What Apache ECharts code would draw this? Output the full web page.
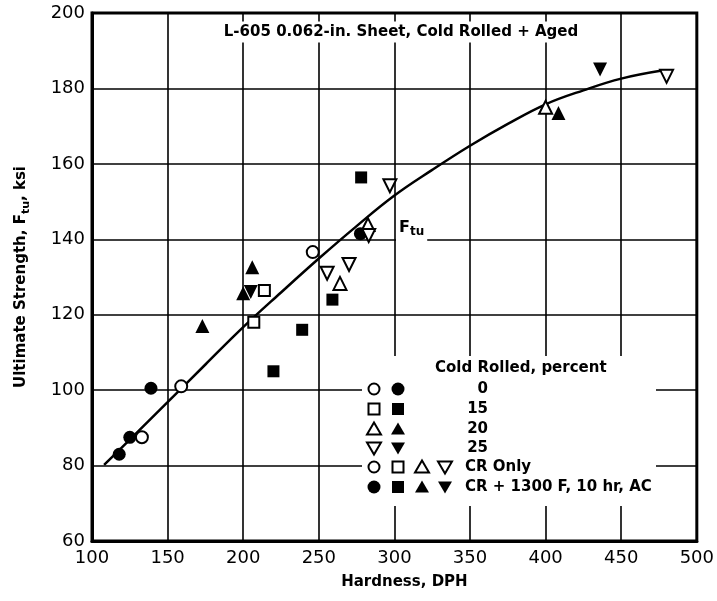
<!DOCTYPE html>
<html><head><meta charset="utf-8">
<script src="https://cdn.jsdelivr.net/npm/echarts@6/dist/echarts.min.js"></script>
<style>html,body{margin:0;padding:0;background:#fff}#c{width:717px;height:601px}</style>
</head><body><div id="c"></div>
<script>
// ---- data (hardness DPH, ultimate strength ksi) ----
const xTicks = [100, 150, 200, 250, 300, 350, 400, 450, 500];
const yTicks = [60, 80, 100, 120, 140, 160, 180, 200];
const cr0Only  = [[133, 87.5], [159, 101], [246, 136.6]];
const cr0Aged  = [[118, 83], [125, 87.5], [139, 100.5], [277.5, 141.5]];
const cr15Only = [[207, 118], [214, 126.4]];
const cr15Aged = [[220, 105], [239, 116], [259, 124], [278, 156.4]];
const cr20Only = [[264, 128.3], [282.5, 143.9], [400, 175]];
const cr20Aged = [[173, 117], [200, 125.7], [206, 132.6], [408.5, 173.5]];
const cr25Only = [[255.5, 131], [270, 133.3], [283, 141], [297, 154.2], [480, 183.2]];
const cr25Aged = [[205, 126], [436, 185]];
const ftuCurve = [[108, 80.2], [125, 86.9], [150, 96.8], [175, 106.8], [200, 116.7], [225, 125.9],
  [250, 134.9], [275, 143.5], [300, 151.6], [325, 158.4], [350, 164.8], [375, 170.6],
  [400, 175.8], [425, 179.5], [450, 182.6], [478, 184.8]];
const legendRows = ['0', '15', '20', '25', 'CR Only', 'CR + 1300 F, 10 hr, AC'];

const FONT = '"DejaVu Sans", sans-serif';
const openStyle = {color: '#fff', borderColor: '#000', borderWidth: 2, opacity: 1};
const fillStyle = {color: '#000', opacity: 1};

function scat(data, symbol, filled, size, rot) {
  return {type: 'scatter', data: data, symbol: symbol, symbolSize: size, symbolRotate: rot || 0,
    itemStyle: filled ? fillStyle : openStyle, z: 5, silent: true};
}

// ---- legend graphics ----
const g = [];
g.push({type: 'rect', shape: {x: 362, y: 356, width: 294, height: 150}, style: {fill: '#fff'}, z: 50});
function sym(kind, filled, x, y) {
  const st = {fill: filled ? '#000' : '#fff', stroke: '#000', lineWidth: filled ? 0 : 2};
  if (kind === 'circle') return {type: 'circle', shape: {cx: x, cy: y, r: filled ? 6.5 : 5.5}, style: st, z: 51};
  if (kind === 'rect') return {type: 'rect', shape: filled ? {x: x - 6, y: y - 6, width: 12, height: 12} : {x: x - 5.5, y: y - 5.5, width: 11, height: 11}, style: st, z: 51};
  if (kind === 'up') return {type: 'polygon', shape: {points: [[x, y - 6.5], [x + 7, y + 5.5], [x - 7, y + 5.5]]}, style: st, z: 51};
  return {type: 'polygon', shape: {points: [[x, y + 6.5], [x + 7, y - 5.5], [x - 7, y - 5.5]]}, style: st, z: 51};
}
function txt(t, x, y, align) {
  return {type: 'text', x: x, y: y, z: 52,
    style: {text: t, font: 'bold 15px ' + FONT, fill: '#000', align: align || 'left', verticalAlign: 'middle'}};
}
const rowsY = [389, 409, 429, 448, 467, 487];
const cols = [374, 398, 422, 445];
const kinds = ['circle', 'rect', 'up', 'down'];
g.push(txt('Cold Rolled, percent', 435, 368));
for (let i = 0; i < 4; i++) {
  g.push(sym(kinds[i], false, cols[0], rowsY[i]));
  g.push(sym(kinds[i], true, cols[1], rowsY[i]));
  g.push(txt(legendRows[i], 488, rowsY[i], 'right'));
}
for (let k = 0; k < 4; k++) {
  g.push(sym(kinds[k], false, cols[k], rowsY[4]));
  g.push(sym(kinds[k], true, cols[k], rowsY[5]));
}
g.push(txt(legendRows[4], 465, rowsY[4]));
g.push(txt(legendRows[5], 465, rowsY[5]));
// chart title inside plot
g.push({type: 'text', x: 401, y: 32, z: 52,
  style: {text: 'L-605 0.062-in. Sheet, Cold Rolled + Aged', font: 'bold 15px ' + FONT, fill: '#000',
    align: 'center', verticalAlign: 'middle', backgroundColor: '#fff', padding: [3, 5]}});
// curve label
g.push({type: 'text', x: 396, y: 228, z: 52,
  style: {text: '{f|F}{s|tu}', align: 'left', verticalAlign: 'middle', backgroundColor: '#fff', padding: [3, 3],
    rich: {f: {font: 'bold 16px ' + FONT, fill: '#000', lineHeight: 20},
           s: {font: 'bold 12px ' + FONT, fill: '#000', lineHeight: 20, verticalAlign: 'bottom'}}}});

const chart = echarts.init(document.getElementById('c'), null, {renderer: 'canvas'});
chart.setOption({
  animation: false,
  backgroundColor: '#fff',
  grid: {left: 92, right: 17, top: 13, bottom: 60, show: true, borderColor: '#000', borderWidth: 3, backgroundColor: 'transparent'},
  xAxis: {type: 'value', min: xTicks[0], max: xTicks[xTicks.length - 1], interval: 50,
    name: 'Hardness, DPH', nameLocation: 'middle', nameGap: 34,
    nameTextStyle: {fontFamily: FONT, fontWeight: 'bold', fontSize: 15, color: '#000', padding: [0, 0, 0, 20]},
    axisLine: {lineStyle: {color: '#000', width: 3}}, axisTick: {show: false},
    axisLabel: {fontFamily: FONT, fontSize: 18, color: '#000', margin: 8},
    splitLine: {show: true, lineStyle: {color: '#000', width: 1.6}}},
  yAxis: {type: 'value', min: yTicks[0], max: yTicks[yTicks.length - 1], interval: 20,
    name: 'Ultimate Strength, F{s|tu}, ksi', nameLocation: 'middle', nameGap: 60,
    nameTextStyle: {fontFamily: FONT, fontWeight: 'bold', fontSize: 15, color: '#000', lineHeight: 22,
      rich: {s: {fontFamily: FONT, fontWeight: 'bold', fontSize: 11, color: '#000', lineHeight: 22, verticalAlign: 'bottom'}}},
    axisLine: {lineStyle: {color: '#000', width: 3}}, axisTick: {show: false},
    axisLabel: {fontFamily: FONT, fontSize: 18, color: '#000', margin: 7},
    splitLine: {show: true, lineStyle: {color: '#000', width: 1.6}}},
  graphic: g,
  series: [
    {type: 'line', data: ftuCurve, smooth: 0.4, symbol: 'none', lineStyle: {color: '#000', width: 2.5}, z: 3, silent: true},
    scat(cr0Only, 'circle', false, 12),
    scat(cr0Aged, 'circle', true, 13),
    scat(cr15Only, 'rect', false, 11),
    scat(cr15Aged, 'rect', true, 12),
    scat(cr20Only, 'triangle', false, 13),
    scat(cr20Aged, 'triangle', true, 14),
    scat(cr25Only, 'triangle', false, 13, 180),
    scat(cr25Aged, 'triangle', true, 14, 180)
  ]
});
</script></body></html>
